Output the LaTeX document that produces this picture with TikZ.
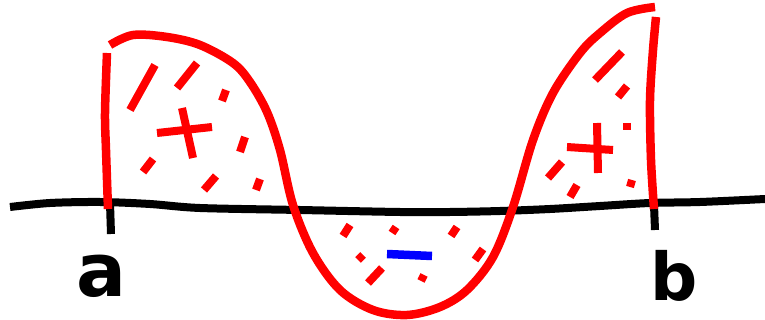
\documentclass[tikz,border=0pt]{standalone}
\usepackage{fontspec}
\setmainfont{DejaVu Sans}
\begin{document}
\begin{tikzpicture}[x=1pt,y=-1pt,
  axisline/.style={line width=8pt,black},
  curve/.style={line width=8.5pt,red,line join=round},
  hatch/.style={line width=8pt,red},
  minusbar/.style={line width=8.5pt,blue},
  lbl/.style={font=\fontsize{74}{74}\selectfont\bfseries,inner sep=0pt}]
\useasboundingbox (0,0) rectangle (765,320);
% axis
\draw[axisline] plot[smooth,tension=0.5] coordinates {(10,207) (50,203) (100,202) (150,204) (200,208) (300,210) (400,212) (450,212) (500,211) (550,209) (600,206) (650,203) (700,202) (765,199)};
% ticks at a and b
\coordinate (ta1) at (110,203); \coordinate (ta2) at (111,234);
\coordinate (tb1) at (654,205); \coordinate (tb2) at (655,230);
\draw[axisline] (ta1) -- (ta2);
\draw[axisline] (tb1) -- (tb2);
% red curve
\draw[curve] plot[smooth,tension=0.55] coordinates {(110,45) (133,35) (167,37) (200,45) (233,63) (250,82) (267,112) (280,150) (293,205) (313,253) (340,290) (373,310) (407,315) (440,307) (467,290) (493,257) (513,207) (533,140) (553,93) (580,53) (600,33) (627,13) (655,7)};
\draw[curve] plot[smooth,tension=0.5] coordinates {(108,209) (106,150) (105,113) (107,53)};
\draw[curve] plot[smooth,tension=0.5] coordinates {(654,209) (651,160) (650,100) (653,50) (656,17)};
% left hatching
\draw[hatch] (155,65) -- (130,110);
\draw[hatch] (197,63) -- (177,88);
\draw[hatch] (226,90) -- (222,101);
\draw[hatch] (157,133) -- (212,127);
\draw[hatch] (182,108) -- (193,158);
\draw[hatch] (245,137) -- (240,152);
\draw[hatch] (153,159) -- (143,172);
\draw[hatch] (216,176) -- (204,190);
\draw[hatch] (260,179) -- (256,190);
% right hatching
\draw[hatch] (622,52) -- (595,80);
\draw[hatch] (627,86) -- (618,97);
\draw[hatch] (627,123) -- (627,130);
\draw[hatch] (567,147) -- (613,150);
\draw[hatch] (597,123) -- (598,173);
\draw[hatch] (562,162) -- (548,178);
\draw[hatch] (577,185) -- (570,197);
\draw[hatch] (632,180) -- (630,187);
% bottom hatching
\draw[hatch] (350,225) -- (343,236);
\draw[hatch] (396,227) -- (392,233);
\draw[hatch] (457,227) -- (451,236);
\draw[hatch] (363,255) -- (358,260);
\draw[hatch] (382,268) -- (368,283);
\draw[hatch] (424,275) -- (421,281);
\draw[hatch] (483,249) -- (475,260);
% minus sign
\draw[minusbar] (387,254) -- (432,256);
% labels
\node[lbl] (a) at (101,276) {a};
\node[lbl,font=\fontsize{66}{66}\selectfont\bfseries] (b) at (674,276) {b};
\end{tikzpicture}
\end{document}
